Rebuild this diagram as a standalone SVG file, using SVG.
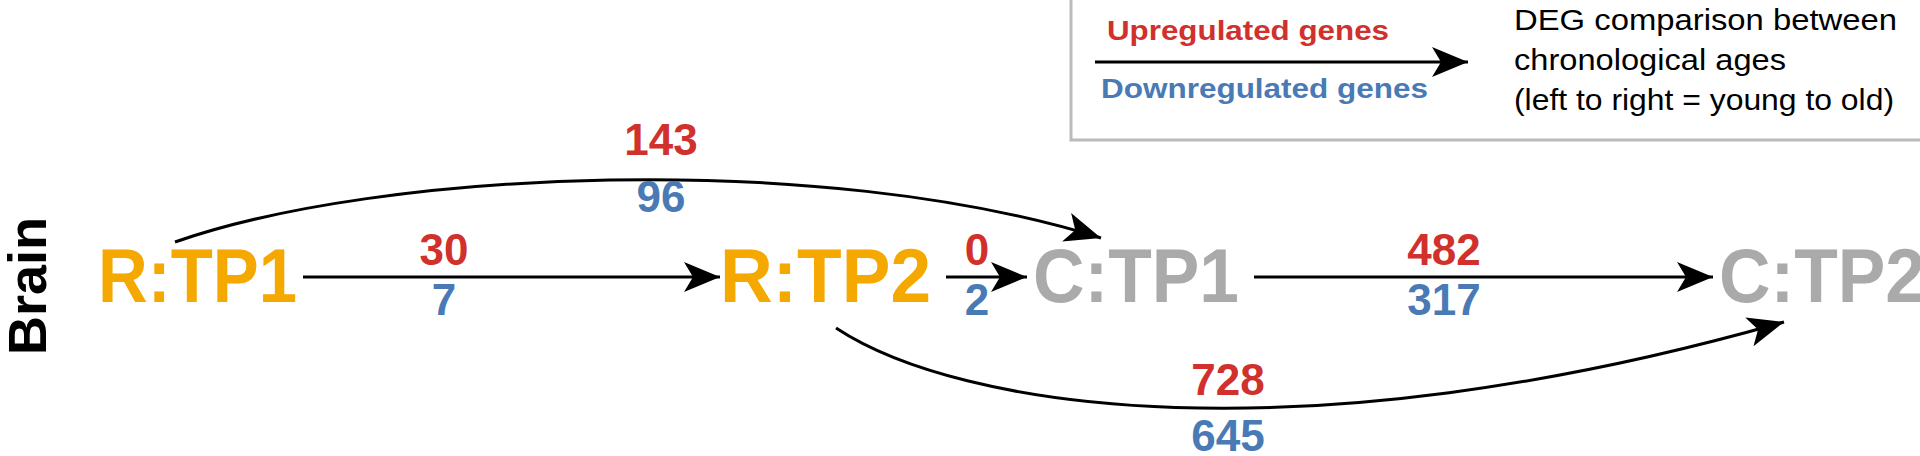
<svg xmlns="http://www.w3.org/2000/svg" width="1920" height="456" viewBox="0 0 1920 456">
<style>
text{font-family:"Liberation Sans",Arial,sans-serif;}
.n{font-size:76px;font-weight:bold;}
.r{fill:#f5a800;}
.c{fill:#aaaaaa;}
.up{fill:#d0312d;font-weight:bold;font-size:44px;text-anchor:middle;}
.dn{fill:#4a7ab5;font-weight:bold;font-size:44px;text-anchor:middle;}
.e{fill:none;stroke:#000;stroke-width:3;marker-end:url(#ah);}
</style>
<defs>
<marker id="ah" markerUnits="userSpaceOnUse" markerWidth="40" markerHeight="34" refX="36" refY="17" orient="auto">
<path d="M0,2 L36,17 L0,32 L9,17 Z" fill="#000"/>
</marker>
</defs>
<rect width="1920" height="456" fill="#fff"/>
<g id="legend">
<rect x="1071" y="-10" width="900" height="150" fill="none" stroke="#bbbbbb" stroke-width="3"/>
<text x="1107" y="40" class="up" style="text-anchor:start;font-size:28px" textLength="282" lengthAdjust="spacingAndGlyphs">Upregulated genes</text>
<line x1="1095" y1="62" x2="1468" y2="62" class="e"/>
<text x="1101" y="98" class="dn" style="text-anchor:start;font-size:28px" textLength="327" lengthAdjust="spacingAndGlyphs">Downregulated genes</text>
<text x="1514" y="30" font-size="30" textLength="383" lengthAdjust="spacingAndGlyphs">DEG comparison between</text>
<text x="1514" y="70" font-size="30" textLength="272" lengthAdjust="spacingAndGlyphs">chronological ages</text>
<text x="1514" y="110" font-size="30" textLength="380" lengthAdjust="spacingAndGlyphs">(left to right = young to old)</text>
</g>
<g id="brain"><text transform="translate(46,286) rotate(-90)" font-size="54" font-weight="bold" text-anchor="middle" textLength="138" lengthAdjust="spacingAndGlyphs">Brain</text></g>
<g id="RTP1"><text x="98" y="302" class="n r" textLength="199" lengthAdjust="spacingAndGlyphs">R:TP1</text></g>
<g id="RTP2"><text x="720" y="302" class="n r" textLength="211" lengthAdjust="spacingAndGlyphs">R:TP2</text></g>
<g id="CTP1"><text x="1033" y="302" class="n c" textLength="206" lengthAdjust="spacingAndGlyphs">C:TP1</text></g>
<g id="CTP2"><text x="1719" y="302" class="n c" textLength="206" lengthAdjust="spacingAndGlyphs">C:TP2</text></g>
<g id="connectors">
<line x1="303" y1="277" x2="720" y2="277" class="e"/>
<line x1="946" y1="277" x2="1027" y2="277" class="e"/>
<line x1="1254" y1="277" x2="1713" y2="277" class="e"/>
<path d="M175,242 C380,170 820,150 1101,238" class="e"/>
<path d="M836,328 C960,410 1300,460 1784,322" class="e"/>
</g>
<g id="labels">
<text x="444" y="265" class="up">30</text>
<text x="444" y="315" class="dn">7</text>
<text x="661" y="155" class="up">143</text>
<text x="661" y="212" class="dn">96</text>
<text x="977" y="265" class="up">0</text>
<text x="977" y="315" class="dn">2</text>
<text x="1444" y="265" class="up">482</text>
<text x="1444" y="315" class="dn">317</text>
<text x="1228" y="395" class="up">728</text>
<text x="1228" y="451" class="dn">645</text>
</g>
</svg>
